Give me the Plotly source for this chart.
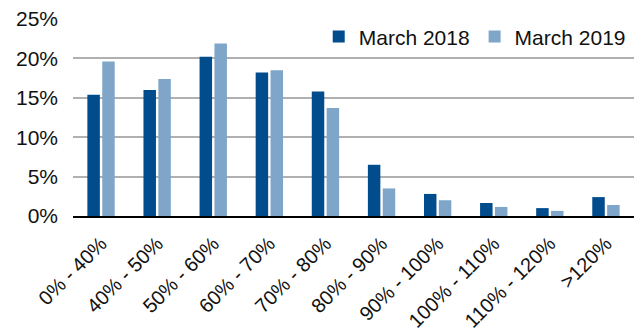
import plotly.graph_objects as go

categories = ["0% - 40%", "40% - 50%", "50% - 60%", "60% - 70%", "70% - 80%",
              "80% - 90%", "90% - 100%", "100% - 110%", "110% - 120%", ">120%"]
march_2018 = [15.4, 16.0, 20.2, 18.2, 15.8, 6.5, 2.8, 1.65, 1.0, 2.4]
march_2019 = [19.6, 17.4, 21.9, 18.5, 13.7, 3.5, 2.0, 1.15, 0.65, 1.4]

font_family = "Liberation Sans, Arial, sans-serif"

fig = go.Figure()
fig.add_trace(go.Bar(x=categories, y=march_2018, name="March 2018",
                     marker=dict(color="#004C8C", line=dict(width=0))))
fig.add_trace(go.Bar(x=categories, y=march_2019, name="March 2019",
                     marker=dict(color="#7FA6C9", line=dict(width=0))))

fig.update_layout(
    width=635, height=329,
    margin=dict(l=73, r=1, t=19, b=113),
    paper_bgcolor="white", plot_bgcolor="white",
    barmode="group", bargap=0.47, bargroupgap=0.16,
    font=dict(family=font_family, size=21, color="#111111"),
    legend=dict(orientation="h", x=0.438, xanchor="left", y=0.91, yanchor="middle",
                bgcolor="rgba(0,0,0,0)", font=dict(size=21),
                itemwidth=30, tracegroupgap=0),
    showlegend=True,
)
fig.update_yaxes(range=[0, 25], dtick=5, ticksuffix="%", showgrid=True,
                 gridcolor="#b0b0b0", gridwidth=1.5, zeroline=False,
                 showline=False, ticks="", tickfont=dict(size=21),
                 ticklabelstandoff=14, automargin=False)
fig.update_xaxes(tickangle=-45, showline=True, linecolor="#000000", linewidth=2,
                 showgrid=False, ticks="", tickfont=dict(size=20),
                 ticklabelstandoff=6, ticklabelshift=0, automargin=False)

fig.write_html("out.html")
